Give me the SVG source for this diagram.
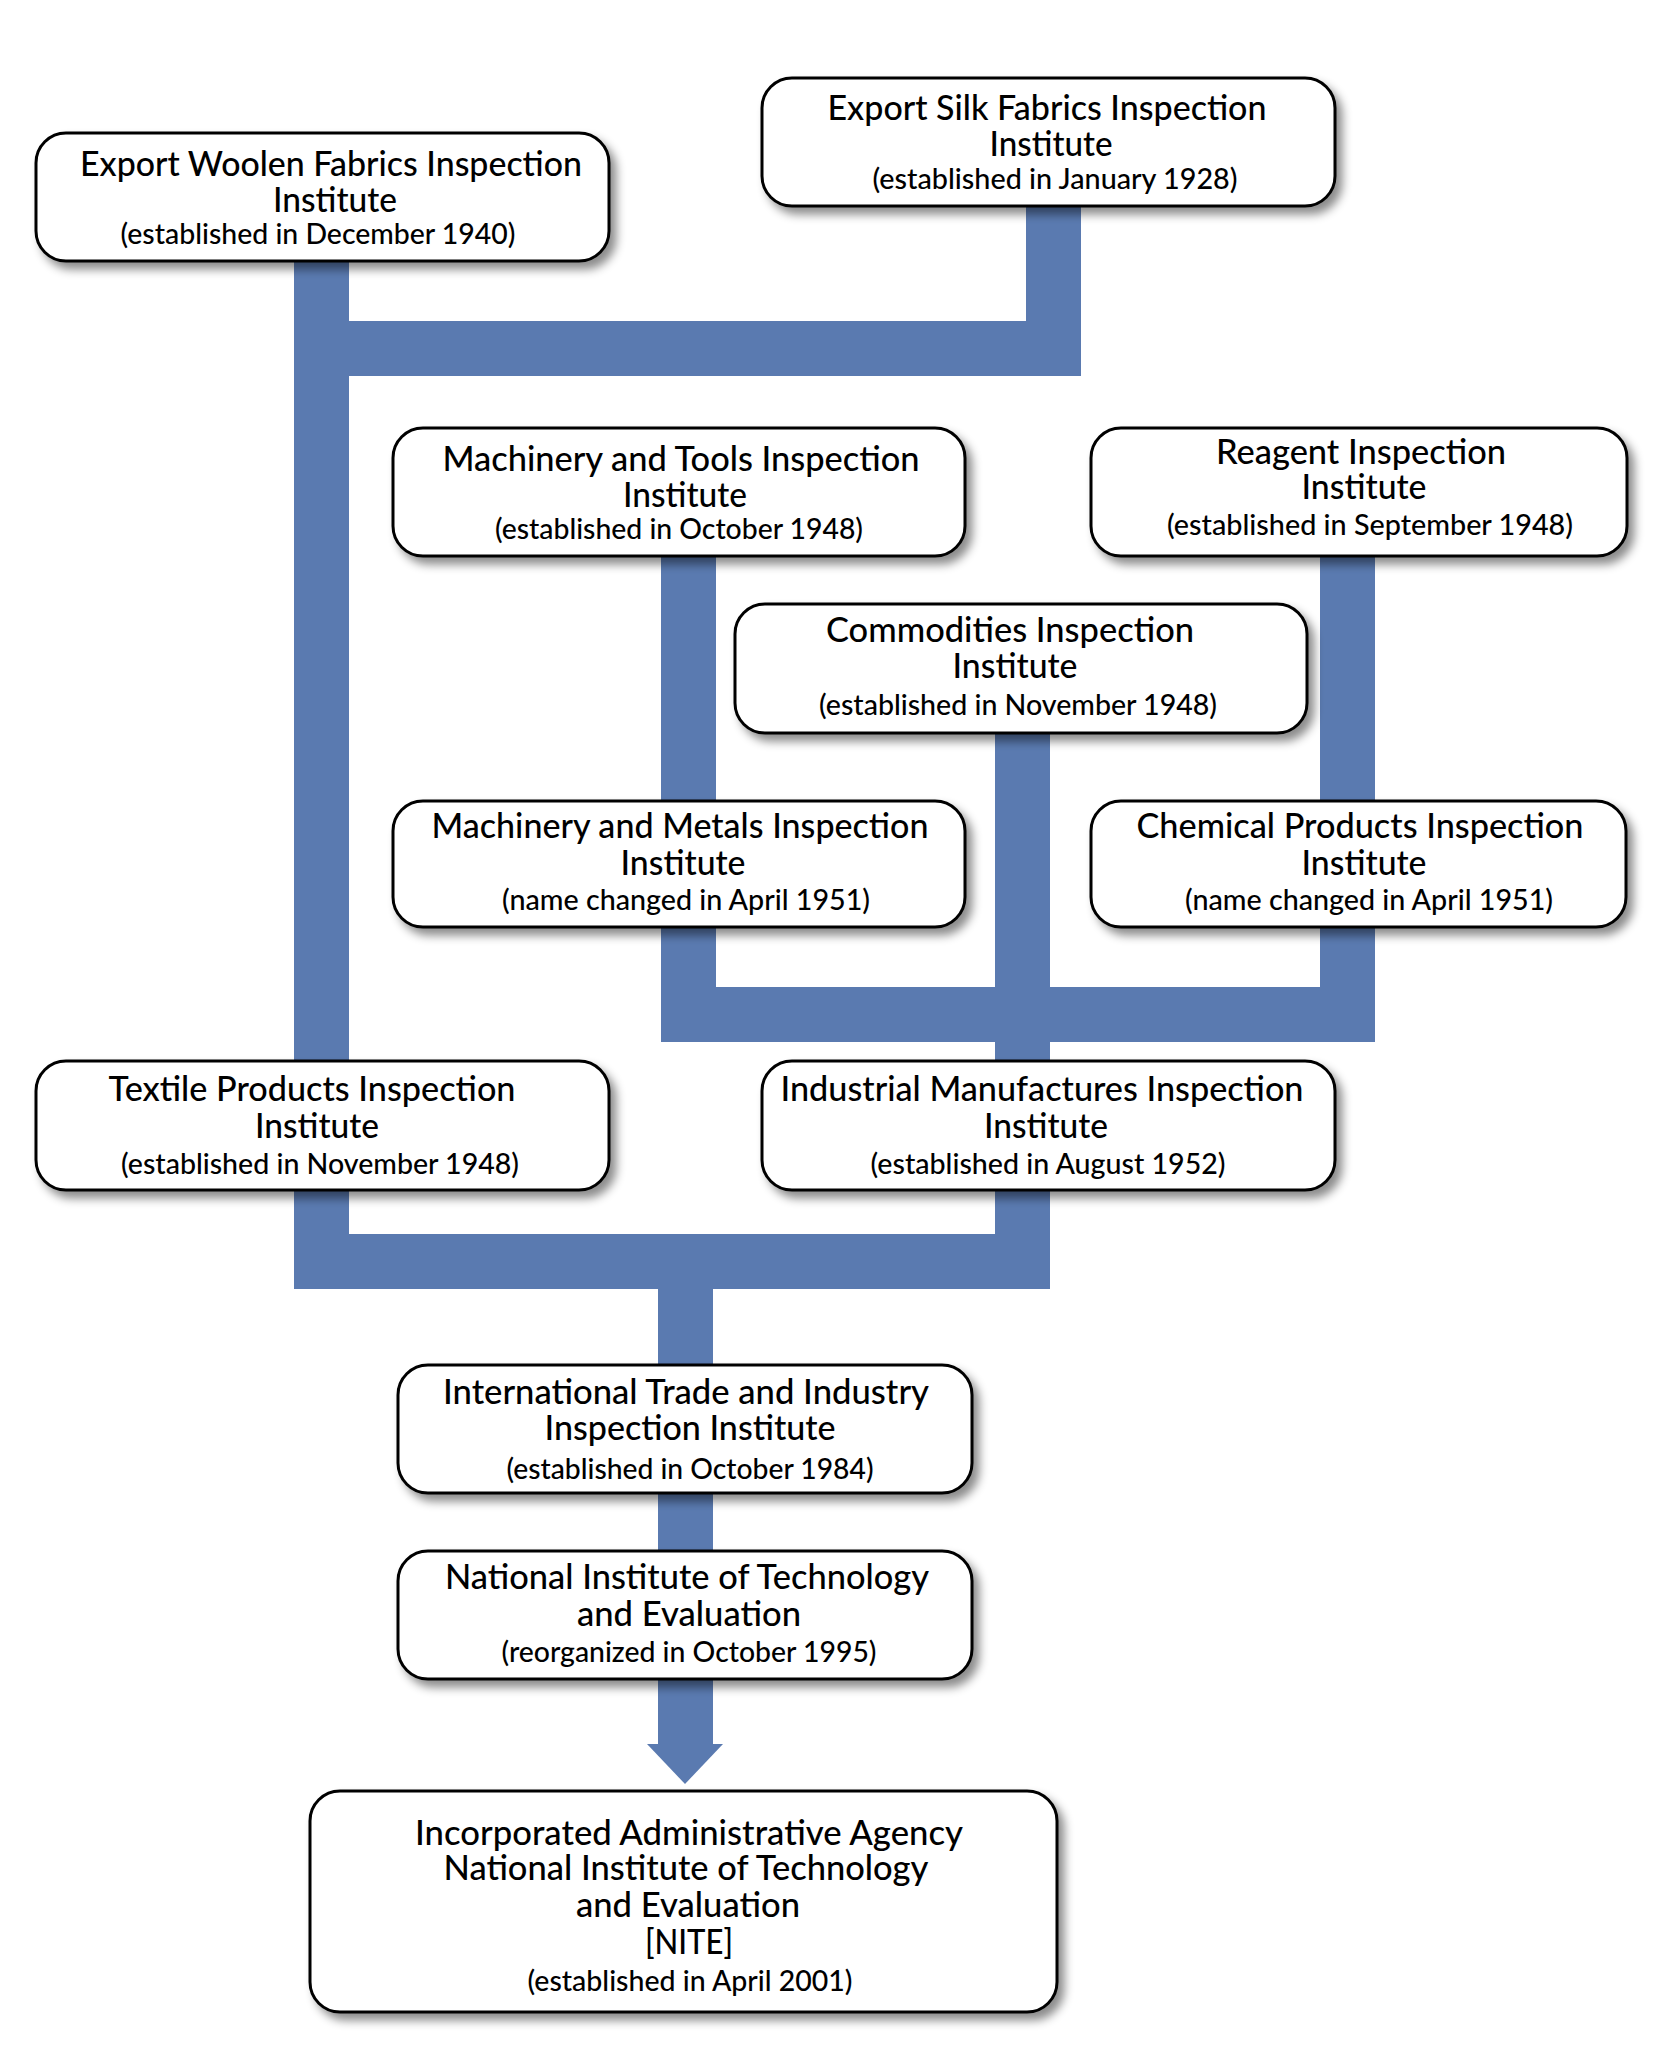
<svg xmlns="http://www.w3.org/2000/svg" width="1659" height="2062" viewBox="0 0 1659 2062">
<defs>
<filter id="sh" x="-10%" y="-20%" width="125%" height="150%">
<feDropShadow dx="6" dy="7" stdDeviation="5" flood-color="#000" flood-opacity="0.45"/>
</filter>
<style>
.box{fill:#fff;stroke:#000;stroke-width:3;filter:url(#sh)}
.c{fill:#5a7ab0}
.t{font-family:Lato,"Open Sans","Liberation Sans",sans-serif;font-size:34px;font-weight:500;fill:#000;text-anchor:middle}
.s{font-family:Lato,"Open Sans","Liberation Sans",sans-serif;font-size:28px;font-weight:500;fill:#000;text-anchor:middle}
</style>
</defs>
<rect width="1659" height="2062" fill="#fff"/>
<g id="connectors">
<rect class="c" x="294" y="255" width="55" height="1034"/>
<rect class="c" x="294" y="321" width="787" height="55"/>
<rect class="c" x="1026" y="200" width="55" height="176"/>
<rect class="c" x="661" y="550" width="55" height="492"/>
<rect class="c" x="995" y="727" width="55" height="562"/>
<rect class="c" x="1320" y="550" width="55" height="492"/>
<rect class="c" x="661" y="987" width="714" height="55"/>
<rect class="c" x="294" y="1234" width="756" height="55"/>
<rect class="c" x="658" y="1289" width="55" height="456"/>
<polygon class="c" points="647,1744 723,1744 685,1784"/>
</g>
<g id="woolen">
<rect class="box" x="36" y="133" width="573" height="128" rx="30"/>
<text class="t" x="331" y="176" textLength="502" lengthAdjust="spacingAndGlyphs">Export Woolen Fabrics Inspection</text>
<text class="t" x="335" y="212" textLength="124" lengthAdjust="spacingAndGlyphs">Institute</text>
<text class="s" x="318" y="244" textLength="395" lengthAdjust="spacingAndGlyphs">(established in December 1940)</text>
</g>
<g id="silk">
<rect class="box" x="762" y="78" width="573" height="128" rx="30"/>
<text class="t" x="1047" y="120" textLength="439" lengthAdjust="spacingAndGlyphs">Export Silk Fabrics Inspection</text>
<text class="t" x="1051" y="156" textLength="123" lengthAdjust="spacingAndGlyphs">Institute</text>
<text class="s" x="1055" y="189" textLength="365" lengthAdjust="spacingAndGlyphs">(established in January 1928)</text>
</g>
<g id="tools">
<rect class="box" x="393" y="428" width="572" height="128" rx="30"/>
<text class="t" x="681" y="471" textLength="477" lengthAdjust="spacingAndGlyphs">Machinery and Tools Inspection</text>
<text class="t" x="685" y="507" textLength="124" lengthAdjust="spacingAndGlyphs">Institute</text>
<text class="s" x="679" y="539" textLength="368" lengthAdjust="spacingAndGlyphs">(established in October 1948)</text>
</g>
<g id="reagent">
<rect class="box" x="1091" y="428" width="536" height="128" rx="30"/>
<text class="t" x="1361" y="464" textLength="290" lengthAdjust="spacingAndGlyphs">Reagent Inspection</text>
<text class="t" x="1364" y="499" textLength="125" lengthAdjust="spacingAndGlyphs">Institute</text>
<text class="s" x="1370" y="535" textLength="406" lengthAdjust="spacingAndGlyphs">(established in September 1948)</text>
</g>
<g id="commodities">
<rect class="box" x="735" y="604" width="572" height="129" rx="30"/>
<text class="t" x="1010" y="642" textLength="368" lengthAdjust="spacingAndGlyphs">Commodities Inspection</text>
<text class="t" x="1015" y="678" textLength="125" lengthAdjust="spacingAndGlyphs">Institute</text>
<text class="s" x="1018" y="715" textLength="398" lengthAdjust="spacingAndGlyphs">(established in November 1948)</text>
</g>
<g id="metals">
<rect class="box" x="393" y="801" width="572" height="126" rx="30"/>
<text class="t" x="680" y="838" textLength="497" lengthAdjust="spacingAndGlyphs">Machinery and Metals Inspection</text>
<text class="t" x="683" y="875" textLength="125" lengthAdjust="spacingAndGlyphs">Institute</text>
<text class="s" x="686" y="910" textLength="368" lengthAdjust="spacingAndGlyphs">(name changed in April 1951)</text>
</g>
<g id="chemical">
<rect class="box" x="1091" y="801" width="535" height="126" rx="30"/>
<text class="t" x="1360" y="838" textLength="447" lengthAdjust="spacingAndGlyphs">Chemical Products Inspection</text>
<text class="t" x="1364" y="875" textLength="125" lengthAdjust="spacingAndGlyphs">Institute</text>
<text class="s" x="1369" y="910" textLength="368" lengthAdjust="spacingAndGlyphs">(name changed in April 1951)</text>
</g>
<g id="textile">
<rect class="box" x="36" y="1061" width="573" height="129" rx="30"/>
<text class="t" x="312" y="1101" textLength="407" lengthAdjust="spacingAndGlyphs">Textile Products Inspection</text>
<text class="t" x="317" y="1138" textLength="124" lengthAdjust="spacingAndGlyphs">Institute</text>
<text class="s" x="320" y="1174" textLength="398" lengthAdjust="spacingAndGlyphs">(established in November 1948)</text>
</g>
<g id="industrial">
<rect class="box" x="762" y="1061" width="573" height="129" rx="30"/>
<text class="t" x="1042" y="1101" textLength="523" lengthAdjust="spacingAndGlyphs">Industrial Manufactures Inspection</text>
<text class="t" x="1046" y="1138" textLength="124" lengthAdjust="spacingAndGlyphs">Institute</text>
<text class="s" x="1048" y="1174" textLength="355" lengthAdjust="spacingAndGlyphs">(established in August 1952)</text>
</g>
<g id="iti">
<rect class="box" x="398" y="1365" width="574" height="128" rx="30"/>
<text class="t" x="686" y="1404" textLength="486" lengthAdjust="spacingAndGlyphs">International Trade and Industry</text>
<text class="t" x="690" y="1440" textLength="291" lengthAdjust="spacingAndGlyphs">Inspection Institute</text>
<text class="s" x="690" y="1479" textLength="367" lengthAdjust="spacingAndGlyphs">(established in October 1984)</text>
</g>
<g id="nite1995">
<rect class="box" x="398" y="1551" width="574" height="128" rx="30"/>
<text class="t" x="687" y="1589" textLength="484" lengthAdjust="spacingAndGlyphs">National Institute of Technology</text>
<text class="t" x="689" y="1626" textLength="224" lengthAdjust="spacingAndGlyphs">and Evaluation</text>
<text class="s" x="689" y="1662" textLength="375" lengthAdjust="spacingAndGlyphs">(reorganized in October 1995)</text>
</g>
<g id="nite2001">
<rect class="box" x="310" y="1791" width="747" height="221" rx="30"/>
<text class="t" x="689" y="1845" textLength="548" lengthAdjust="spacingAndGlyphs">Incorporated Administrative Agency</text>
<text class="t" x="686" y="1880" textLength="485" lengthAdjust="spacingAndGlyphs">National Institute of Technology</text>
<text class="t" x="688" y="1917" textLength="224" lengthAdjust="spacingAndGlyphs">and Evaluation</text>
<text class="t" x="689" y="1954" textLength="88" lengthAdjust="spacingAndGlyphs">[NITE]</text>
<text class="s" x="690" y="1991" textLength="325" lengthAdjust="spacingAndGlyphs">(established in April 2001)</text>
</g>
</svg>
